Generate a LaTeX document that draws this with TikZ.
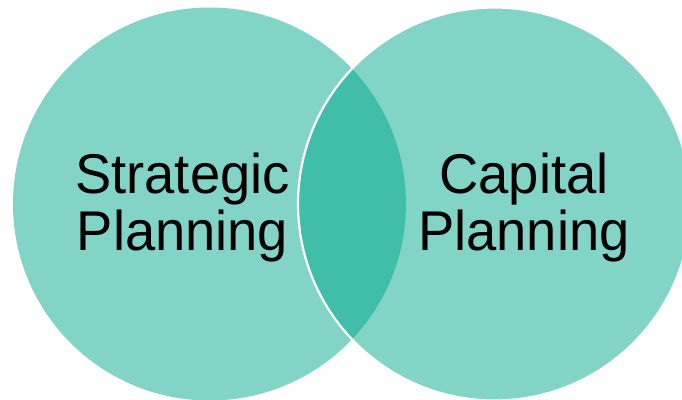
\documentclass[tikz,border=0pt]{standalone}
\usepackage{fontspec}
\setmainfont{Liberation Sans}
\definecolor{tealLight}{RGB}{129,212,198}
\definecolor{tealDark}{RGB}{65,190,169}
\begin{document}
\begin{tikzpicture}[x=1pt,y=-1pt,
  label/.style={text=black,align=center,font=\fontsize{56}{57}\selectfont,inner sep=0pt,xscale=0.97}]
\useasboundingbox (0,0) rectangle (682,399);
% two overlapping sets
\coordinate (cl) at (209.5,204);
\coordinate (cr) at (494.5,204);
\fill[tealLight] (cl) circle[radius=196.5];
\fill[tealLight] (cr) circle[radius=196.5];
% shared region
\begin{scope}
  \clip (cl) circle[radius=196.5];
  \fill[tealDark] (cr) circle[radius=196.5];
\end{scope}
\draw[white,line width=2.2] (cr) circle[radius=196.5];
% labels (anchored on the baseline of the second line)
\node[label,anchor=base] (strategic) at (182.5,250) {Strategic\\Planning};
\node[label,anchor=base] (capital) at (524,250) {Capital\\Planning};
\end{tikzpicture}
\end{document}
